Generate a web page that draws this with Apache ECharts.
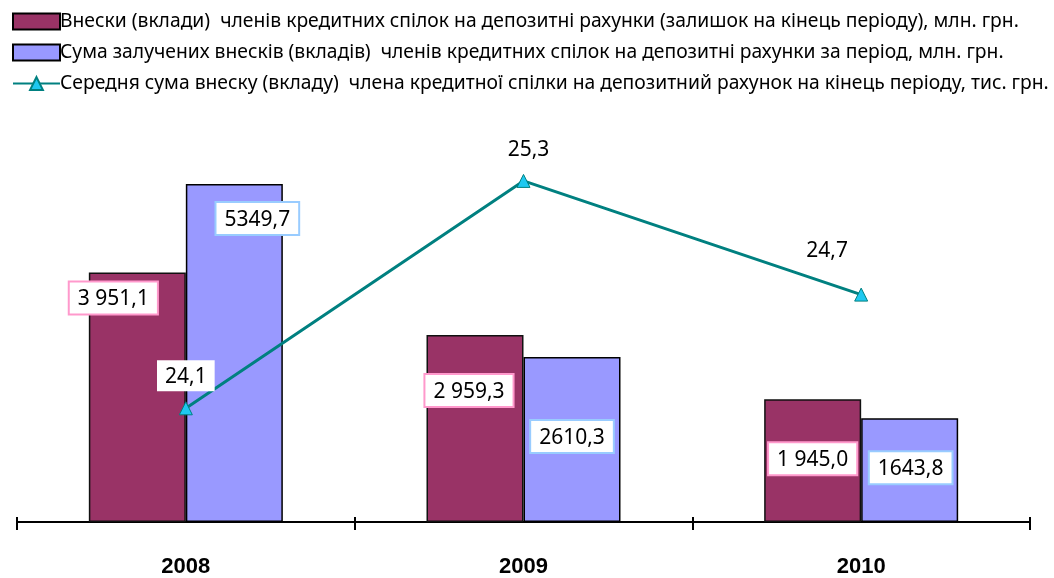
<!DOCTYPE html>
<html>
<head>
<meta charset="utf-8">
<script src="https://cdn.jsdelivr.net/npm/echarts@6/dist/echarts.min.js"></script>
<style>
    html, body {margin: 0; padding: 0; background: #fff;}
    #main {width: 1054px; height: 578px;}
</style>
</head>
<body>
<div id="main"></div>
<script>
var years = ['2008', '2009', '2010'];
var deposits = [3951.1, 2959.3, 1945.0];   //залишок на кінець періоду
var attracted = [5349.7, 2610.3, 1643.8];  //залучено за період
var avgSum = [24.1, 25.3, 24.7];           //середня сума, тис. грн

var name1 = 'Внески (вклади)  членів кредитних спілок на депозитні рахунки (залишок на кінець періоду), млн. грн.';
var name2 = 'Сума залучених внесків (вкладів)  членів кредитних спілок на депозитні рахунки за період, млн. грн.';
var name3 = 'Середня сума внеску (вкладу)  члена кредитної спілки на депозитний рахунок на кінець періоду, тис. грн.';

// зсуви підписів
var off1 = [[-24, 10], [-6, 40], [0, 44]];
var off2 = [[23, 19], [0, 64], [1, 34]];
var off3 = [[0, 0], [5, 0], [-34, 0]];
var dist3 = [10, 9, 22];

var txtFont = 'Noto Sans';
var gridTop = 143, gridBottom = 54;

function fmt(v, group) {
    var s = v.toFixed(1).replace('.', ',');
    if (group) {
        var p = s.split(',');
        p[0] = p[0].replace(/\B(?=(\d{3})+(?!\d))/g, ' ');
        s = p.join(',');
    }
    return s;
}

function barData(vals, offs, border, group) {
    var arr = [];
    for (var i in vals) {
        arr.push({
            value: vals[i],
            label: {offset: offs[i], formatter: fmt(vals[i], group), borderColor: border}
        });
    }
    return arr;
}

var lineData = [];
for (var i in avgSum) {
    lineData.push({value: avgSum[i], label: {offset: off3[i], distance: dist3[i]}});
}

var labelBox = {
    show: true,
    position: 'insideTop',
    distance: 0,
    color: '#000',
    fontFamily: txtFont,
    fontSize: 21,
    backgroundColor: '#fff',
    borderWidth: 2,
    padding: [6, 8, 4, 8]
};

var tickStyle = {color: '#000', width: 2};

var myChart = echarts.init(document.getElementById('main'));
var option = {
    animation: false,
    legend: {
        orient: 'vertical',
        left: 7,
        top: 7,
        itemGap: 12,
        itemWidth: 47,
        itemHeight: 16,
        textStyle: {color: '#000', fontFamily: txtFont, fontSize: 19.3, padding: [0, 0, 0, -5]},
        data: [
            {name: name1, icon: 'rect', itemStyle: {borderColor: '#000', borderWidth: 2}},
            {name: name2, icon: 'rect', itemStyle: {borderColor: '#000', borderWidth: 2}},
            {name: name3}
        ]
    },
    grid: {left: 17, right: 24, top: gridTop, bottom: gridBottom},
    xAxis: [{
        type: 'category',
        data: years,
        axisLine: {lineStyle: {color: '#000', width: 2}},
        axisTick: {show: true, interval: 0, length: 8, lineStyle: tickStyle},
        axisLabel: {color: '#000', fontFamily: 'Liberation Sans', fontWeight: 'bold', fontSize: 22, margin: 34}
    }, {
        // верхня половина рисок на осі
        type: 'category',
        position: 'top',
        offset: -(578 - gridTop - gridBottom),
        data: years,
        axisLine: {show: false},
        axisTick: {show: true, interval: 0, length: 7, lineStyle: tickStyle},
        axisLabel: {show: false}
    }],
    yAxis: [
        {type: 'value', min: 0, max: 6000, show: false},
        {type: 'value', min: 23.5, max: 25.5, show: false}
    ],
    series: [
        {
            name: name1,
            type: 'bar',
            barWidth: 97,
            barGap: 0,
            itemStyle: {color: '#993366', borderColor: '#111', borderWidth: 1.5},
            label: labelBox,
            data: barData(deposits, off1, '#ff99cc', true)
        },
        {
            name: name2,
            type: 'bar',
            barWidth: 97,
            barGap: 0,
            itemStyle: {color: '#9999ff', borderColor: '#000', borderWidth: 1.5},
            label: labelBox,
            data: barData(attracted, off2, '#99ccff', false)
        },
        {
            name: name3,
            type: 'line',
            yAxisIndex: 1,
            symbol: 'triangle',
            symbolSize: 13,
            lineStyle: {color: '#008080', width: 3},
            itemStyle: {color: '#1ec8f0', borderColor: '#008080', borderWidth: 1},
            label: {
                show: true,
                position: 'top',
                color: '#000',
                fontFamily: txtFont,
                fontSize: 21,
                backgroundColor: '#fff',
                padding: [6, 8, 4, 8],
                formatter: function (p) { return fmt(p.value, false); }
            },
            data: lineData
        }
    ]
};
myChart.setOption(option);
</script>
</body>
</html>
